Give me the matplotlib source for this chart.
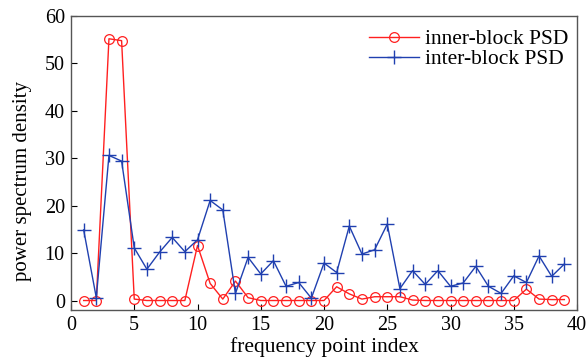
import matplotlib
matplotlib.use("Agg")
import matplotlib.pyplot as plt

idx = list(range(1, 40))
inner_psd = [0, 0, 55.2, 54.8, 0.3, 0, 0, 0, 0, 11.6,
             3.6, 0.3, 4.1, 0.6, 0, 0, 0, 0, 0, 0,
             2.9, 1.4, 0.3, 0.8, 0.8, 0.8, 0.1, 0, 0, 0,
             0, 0, 0, 0, 0, 2.4, 0.3, 0.2, 0.2]
inter_psd = [14.9, 0.6, 30.6, 29.4, 11.1, 6.6, 10.2, 13.3, 10.3, 12.8,
             21.1, 19.1, 1.5, 9.1, 5.6, 8.4, 3.0, 3.8, 0.5, 7.9,
             5.9, 15.7, 9.8, 10.7, 16.1, 2.5, 6.3, 3.4, 6.3, 3.0,
             3.7, 7.2, 3.0, 1.5, 5.2, 3.8, 9.4, 5.1, 7.7]

plt.rcParams['font.family'] = ['Liberation Serif', 'DejaVu Serif']
fig = plt.figure(figsize=(5.87, 3.64), dpi=100)
ax = fig.add_axes([71/587, 1-310/364, (577-71)/587, (310-16)/364])

ax.plot(idx, inner_psd, color='#ff2020', lw=1.0, marker='o', ms=7,
        mfc='none', mec='#ff2020', mew=0.9, label='inner-block PSD')
ax.plot(idx, inter_psd, color='#2040b0', lw=1.0, marker='+', ms=10,
        mew=1.0, label='inter-block PSD')

ax.set_xlim(0, 40)
ax.set_ylim(-2, 60)
ax.set_xticks(range(0, 41, 5))
ax.set_yticks(range(0, 61, 10))
ax.tick_params(direction='in', labelsize=14.5, length=4, pad=4.5,
               top=False, right=False)
for s in ax.spines.values():
    s.set_color('#555555')
    s.set_linewidth(1.0)
ax.set_xlabel('frequency point index', fontsize=15.5, labelpad=1)
ax.set_ylabel('power spectrum density', fontsize=15)
ax.yaxis.set_label_coords(-0.078, 0.44)
ax.legend(loc='upper right', bbox_to_anchor=(1.0, 0.985), frameon=False,
          fontsize=15.5, handlelength=2.3, borderaxespad=0.1, borderpad=0.3,
          labelspacing=0.0, handletextpad=0.3)

fig.savefig('out.png', dpi=100)
